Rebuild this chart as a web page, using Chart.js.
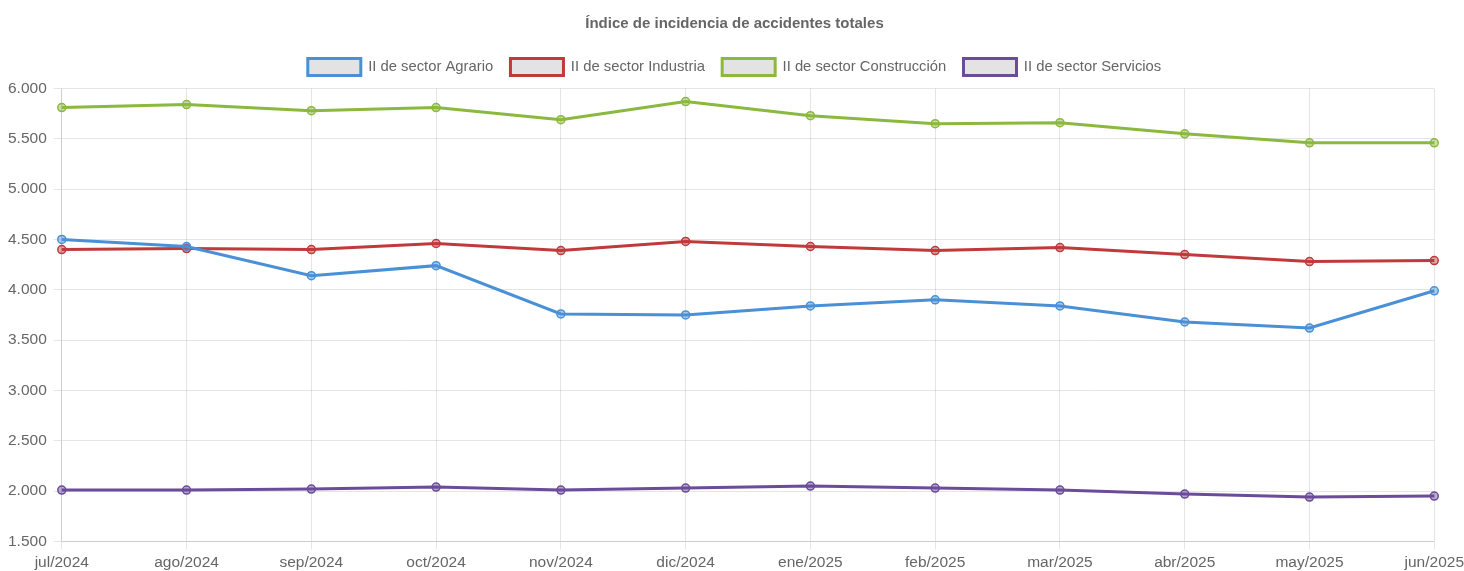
<!DOCTYPE html>
<html lang="es">
<head>
<meta charset="UTF-8">
<title>Índice de incidencia de accidentes totales</title>
<script src="https://cdn.jsdelivr.net/npm/chart.js@4.4.0/dist/chart.umd.min.js"></script>
<style>
  html, body { margin: 0; padding: 0; background: #fff; overflow: hidden; }
  #wrap { width: 1468px; height: 576px; }
</style>
</head>
<body>
<div id="wrap"><canvas id="chart"></canvas></div>
<script>
const meses = ['jul/2024', 'ago/2024', 'sep/2024', 'oct/2024', 'nov/2024', 'dic/2024',
               'ene/2025', 'feb/2025', 'mar/2025', 'abr/2025', 'may/2025', 'jun/2025'];

const agrario      = [4500, 4430, 4140, 4240, 3760, 3750, 3840, 3900, 3840, 3680, 3620, 3990];
const industria    = [4400, 4410, 4400, 4460, 4390, 4480, 4430, 4390, 4420, 4350, 4280, 4290];
const construccion = [5810, 5840, 5780, 5810, 5690, 5870, 5730, 5650, 5660, 5550, 5460, 5460];
const servicios    = [2010, 2010, 2020, 2040, 2010, 2030, 2050, 2030, 2010, 1970, 1940, 1950];

const yTicks = { min: 1500, max: 6000, step: 500 };

function serie(label, data, color, fill) {
  return {
    label: label,
    data: data,
    borderColor: color,
    backgroundColor: '#e3e3e3',
    pointBackgroundColor: fill,
    pointBorderColor: color,
    pointRadius: 4,
    pointBorderWidth: 1.5,
    borderWidth: 3,
    tension: 0
  };
}

function miles(v) {
  return String(v).replace(/\B(?=(\d{3})+(?!\d))/g, '.');
}

// un poco mas de aire bajo la leyenda
const legendGap = {
  id: 'legendGap',
  afterInit(chart) {
    const fit = chart.legend.fit;
    chart.legend.fit = function () {
      fit.call(this);
      this.height += 3;
    };
  }
};

Chart.defaults.font.family = '"Liberation Sans", Arial, sans-serif';
Chart.defaults.color = '#666';

new Chart(document.getElementById('chart'), {
  type: 'line',
  data: {
    labels: meses,
    datasets: [
      serie('II de sector Agrario', agrario, '#4a90d6', 'rgba(74,144,214,0.45)'),
      serie('II de sector Industria', industria, '#c0393b', 'rgba(192,57,59,0.45)'),
      serie('II de sector Construcción', construccion, '#8bb83f', 'rgba(139,184,63,0.45)'),
      serie('II de sector Servicios', servicios, '#6b4c9a', 'rgba(107,76,154,0.45)')
    ]
  },
  plugins: [legendGap],
  options: {
    responsive: true,
    maintainAspectRatio: false,
    animation: false,
    layout: { padding: { left: 1, right: 0, top: 6, bottom: 0 } },
    plugins: {
      title: {
        display: true,
        text: 'Índice de incidencia de accidentes totales',
        color: '#666',
        font: { size: 15, weight: 'bold' },
        padding: { top: 9, bottom: 8.25 }
      },
      legend: {
        labels: {
          boxWidth: 53,
          boxHeight: 17,
          font: { size: 14.8 },
          color: '#666',
          padding: 17.25
        }
      },
      tooltip: { enabled: false }
    },
    scales: {
      x: {
        grid: { color: 'rgba(0,0,0,0.1)' },
        ticks: { font: { size: 15.5 }, maxRotation: 0, padding: 4 }
      },
      y: {
        min: yTicks.min,
        max: yTicks.max,
        grid: { color: 'rgba(0,0,0,0.1)' },
        ticks: {
          stepSize: yTicks.step,
          font: { size: 15.5 },
          padding: 7,
          callback: v => miles(v)
        }
      }
    }
  }
});
</script>
</body>
</html>
